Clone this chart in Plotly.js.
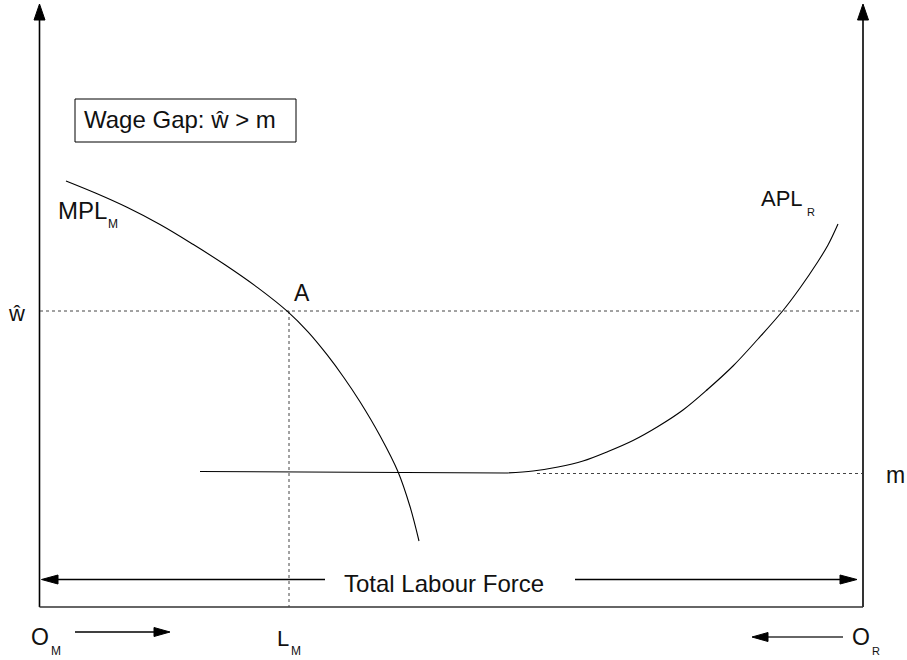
<!DOCTYPE html>
<html>
<head>
<meta charset="utf-8">
<script src="https://cdn.plot.ly/plotly-3.0.1.min.js"></script>
<style>html,body{margin:0;padding:0;background:#fff;}#chart{width:907px;height:660px;}</style>
</head>
<body>
<div id="chart"></div>
<script>
// ---- Data (diagram units = picture pixels, y measured downward) ----
var mplX = [66, 96, 127, 160, 193, 225, 258, 288, 308, 327, 344, 360, 380, 398, 410, 419];
var mplY = [181, 193.3, 207.3, 224.5, 244.3, 264.8, 287.9, 311.9, 331.9, 354.7, 377.7, 401.7, 435.7, 471.7, 506.5, 541];

var flatX = [200, 505];
var flatY = [471.5, 473];

var aplX = [505, 533, 558, 583, 608, 633, 658, 683, 708, 733, 758, 783, 800, 817, 828, 838];
var aplY = [473, 471, 467, 461, 451.5, 440.5, 426.5, 410, 389, 366, 339, 310.5, 288, 263, 245, 224];

var wageLevel = 311;      // ŵ
var mLevel = 473.5;       // m
var labourLM = 289;       // L_M
var originLeft = 39.5;
var originRight = 863;
var baseY = 607;
var topY = 20;

var wHatLineX = [40, 862];
var mLineX = [537, 862];
var lmLineY = [wageLevel, baseY];

var tlfY = 579.5;
var tlfLeftX = [58, 325];
var tlfRightX = [575, 840];

var omArrowX = [75, 155];
var omArrowY = 632;
var orArrowX = [843, 768];
var orArrowY = 637;

// arrowheads (triangle polygons)
var headLeftAxisX = [39.5, 34, 45, 39.5];
var headLeftAxisY = [4, 20, 20, 4];
var headRightAxisX = [863, 857.5, 868.5, 863];
var headRightAxisY = [4, 20, 20, 4];
var headTlfLX = [41.5, 58, 58, 41.5];
var headTlfLY = [579.5, 575, 584, 579.5];
var headTlfRX = [857, 840, 840, 857];
var headTlfRY = [579.5, 575, 584, 579.5];
var headOMX = [170, 154, 154, 170];
var headOMY = [632, 627.5, 636.5, 632];
var headORX = [752, 768, 768, 752];
var headORY = [637, 632.5, 641.5, 637];

var boxX = [75, 296];
var boxY = [99, 142];

var labels = ["Wage Gap: ŵ > m", "MPL", "M", "APL", "R", "A", "ŵ", "m", "Total Labour Force", "O", "M", "L", "M", "O", "R"];
var labelX = [82, 56, 106, 759, 805, 292, 6, 884, 444, 29, 49, 275, 289, 850, 870];
var labelY = [119, 210, 224, 198, 212, 293, 313, 475, 583, 637, 651, 638, 651, 637, 651];
var labelSize = [24, 24, 12, 22, 11, 23, 22, 23, 24, 23, 12, 22, 12, 23, 11];
var labelAnchor = ["left","left","left","left","left","left","left","left","center","left","left","left","left","left","left"];

// ---- Traces ----
function line(x, y, color, width, dash) {
  return {x: x, y: y, mode: 'lines', type: 'scatter', hoverinfo: 'skip',
          line: {color: color, width: width, dash: dash || 'solid'}};
}
function head(x, y) {
  return {x: x, y: y, mode: 'lines', type: 'scatter', fill: 'toself', fillcolor: '#000',
          hoverinfo: 'skip', line: {color: '#000', width: 1}};
}

var traces = [
  line([originLeft, originLeft], [baseY, topY], '#000', 1.6),
  line([originRight, originRight], [baseY, topY], '#000', 1.6),
  line([originLeft, originRight], [baseY, baseY], '#333', 1.3),
  line(wHatLineX, [wageLevel, wageLevel], '#444', 1, 'dot'),
  line(mLineX, [mLevel, mLevel], '#444', 1, 'dot'),
  line([labourLM, labourLM], lmLineY, '#444', 1, 'dot'),
  {x: mplX, y: mplY, mode: 'lines', type: 'scatter', hoverinfo: 'skip', line: {color: '#000', width: 1.1, shape: 'spline', smoothing: 1}},
  line(flatX, flatY, '#000', 1.1),
  {x: aplX, y: aplY, mode: 'lines', type: 'scatter', hoverinfo: 'skip', line: {color: '#000', width: 1.1, shape: 'spline', smoothing: 1}},
  line(tlfLeftX, [tlfY, tlfY], '#000', 1.3),
  line(tlfRightX, [tlfY, tlfY], '#000', 1.3),
  line(omArrowX, [omArrowY, omArrowY], '#000', 1.3),
  line(orArrowX, [orArrowY, orArrowY], '#333', 1.3),
  head(headLeftAxisX, headLeftAxisY),
  head(headRightAxisX, headRightAxisY),
  head(headTlfLX, headTlfLY),
  head(headTlfRX, headTlfRY),
  head(headOMX, headOMY),
  head(headORX, headORY)
];

var annotations = labels.map(function (t, i) {
  return {x: labelX[i], y: labelY[i], text: t, showarrow: false,
          xanchor: labelAnchor[i], yanchor: 'middle', xref: 'x', yref: 'y',
          font: {family: 'Liberation Sans, Arial, sans-serif', size: labelSize[i], color: '#111'}};
});

var layout = {
  width: 907, height: 660,
  margin: {l: 0, r: 0, t: 0, b: 0},
  paper_bgcolor: '#fff', plot_bgcolor: '#fff',
  showlegend: false,
  xaxis: {range: [0, 907], visible: false, fixedrange: true},
  yaxis: {range: [660, 0], visible: false, fixedrange: true},
  shapes: [{type: 'rect', xref: 'x', yref: 'y', x0: boxX[0], x1: boxX[1], y0: boxY[0], y1: boxY[1],
            line: {color: '#000', width: 1}, fillcolor: 'rgba(0,0,0,0)'}],
  annotations: annotations
};

Plotly.newPlot('chart', traces, layout, {staticPlot: true, displayModeBar: false});
</script>
</body>
</html>
